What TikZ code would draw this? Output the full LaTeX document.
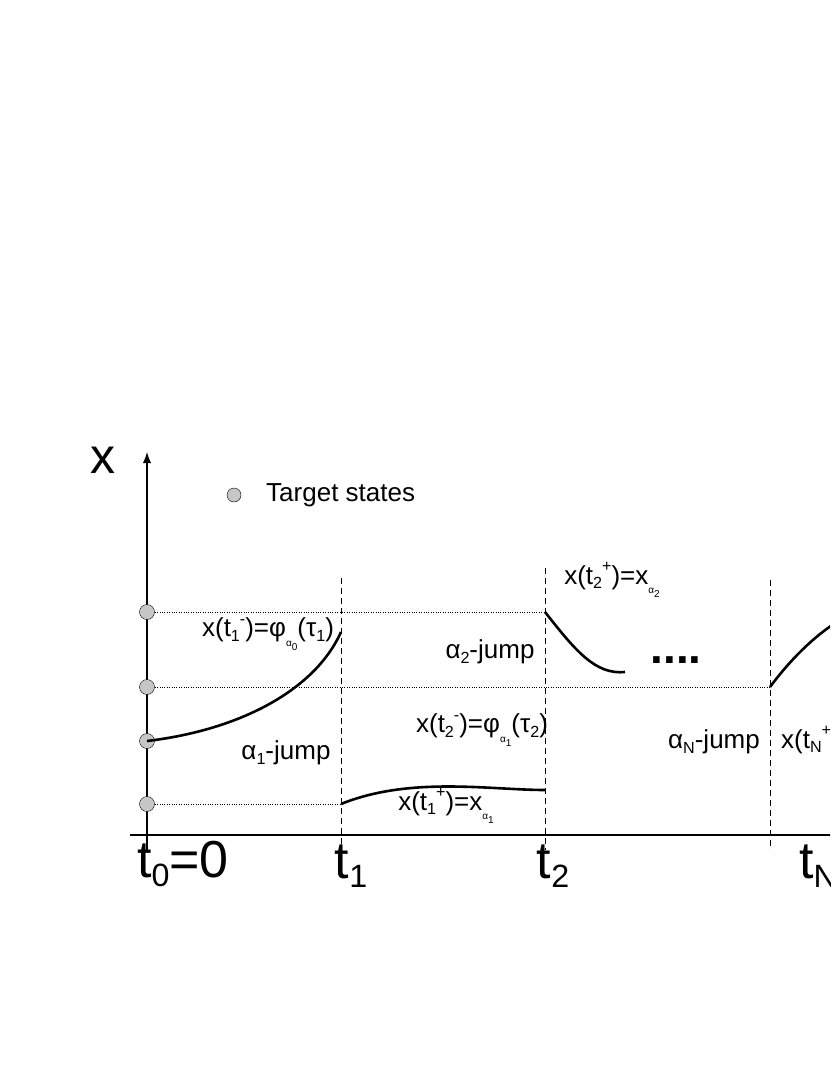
\documentclass[tikz,border=0pt]{standalone}
\usepackage{fontspec}
\setmainfont{Liberation Sans}
\newcommand{\sub}[1]{\raisebox{-0.35ex}{\fontsize{0.62em}{0.62em}\selectfont #1}}
\newcommand{\supr}[1]{\raisebox{0.9ex}{\fontsize{0.62em}{0.62em}\selectfont #1}}
\newcommand{\ssub}[1]{\raisebox{-0.7ex}{\fontsize{10}{10}\selectfont #1}}
\tikzset{
  target/.style={circle,draw,fill=gray!45,inner sep=0pt,minimum size=15pt},
  lbl/.style={font=\fontsize{26}{26}\selectfont,inner sep=1pt},
  ticklbl/.style={font=\fontsize{52}{52}\selectfont,inner sep=1pt},
  guide/.style={dotted,thin},
  epoch/.style={dash pattern=on 6pt off 4pt,line width=0.8pt},
  traj/.style={line width=2.6pt}
}
\begin{document}
\begin{tikzpicture}[x=1pt,y=-1pt]
      \useasboundingbox (0,0) rectangle (830,1075);
      \clip (0,0) rectangle (830,1075);

      % axes
      \draw[line width=2.8pt,-latex] (147,852) -- (147,452);
      \draw[line width=2.8pt] (130,835) -- (840,835);
      \node[font=\fontsize{50}{50}\selectfont] (xlab) at (103,460) {x};

      % target states on the axis
      \node[target] (s1) at (147,612) {};
      \node[target] (s2) at (147,687) {};
      \node[target] (s3) at (147,741) {};
      \node[target] (s4) at (147,804) {};
      \node[target,minimum size=14pt] (leg) at (234,495) {};
      \node[lbl,anchor=west] (legtxt) at (265,495) {Target states};

      % switching times
      \coordinate (v1) at (341,578); \coordinate (b1) at (341,850);
      \coordinate (v2) at (545,568); \coordinate (b2) at (545,850);
      \coordinate (v3) at (770,580); \coordinate (b3) at (770,850);
      \draw[epoch] (v1) -- (b1);
      \draw[epoch] (v2) -- (b2);
      \draw[epoch] (v3) -- (b3);

      % guide lines
      \coordinate (g1) at (545,612);
      \coordinate (g2) at (770,687);
      \coordinate (g4) at (341,804);
      \draw[guide] (s1) -- (g1);
      \draw[guide] (s2) -- (g2);
      \draw[guide] (s4) -- (g4);

      % trajectory pieces
      \coordinate (p1) at (341,632);
      \coordinate (p2) at (545,790);
      \coordinate (p3) at (625,672);
      \coordinate (p4) at (840,620);
      \draw[traj] (s3.center) .. controls (240,730) and (315,690) .. (p1);
      \draw[traj] (g4) .. controls (410,776) and (490,790) .. (p2);
      \draw[traj] (g1) .. controls (575,650) and (595,675) .. (p3);
      \draw[traj] (g2) .. controls (790,660) and (815,635) .. (p4);
      \node[font=\fontsize{46}{46}\selectfont\bfseries] (dots) at (676,660) {....};

      % labels
      \node[lbl] (l1) at (268,634) {x(t\sub{1}\supr{-})=φ\ssub{α\ssub{0}}(τ\sub{1})};
      \node[lbl] (l2) at (286,753) {α\sub{1}-jump};
      \node[lbl] (l3) at (482,730) {x(t\sub{2}\supr{-})=φ\ssub{α\ssub{1}}(τ\sub{2})};
      \node[lbl] (l4) at (446,806) {x(t\sub{1}\supr{+})=x\ssub{α\ssub{1}}};
      \node[lbl] (l5) at (612,580) {x(t\sub{2}\supr{+})=x\ssub{α\ssub{2}}};
      \node[lbl] (l6) at (490,652) {α\sub{2}-jump};
      \node[lbl] (l7) at (714,742) {α\sub{N}-jump};
      \node[lbl,anchor=west] (l8) at (780,744) {x(t\sub{N}\supr{+})=x\ssub{α\ssub{N}}};

      % time ticks
      \node[ticklbl] (t0) at (183,864) {t\sub{0}=0};
      \node[ticklbl] (t1) at (351,866) {t\sub{1}};
      \node[ticklbl] (t2) at (553,866) {t\sub{2}};
      \node[ticklbl,anchor=west] (tN) at (798,866) {t\sub{N}};
\end{tikzpicture}
\end{document}
